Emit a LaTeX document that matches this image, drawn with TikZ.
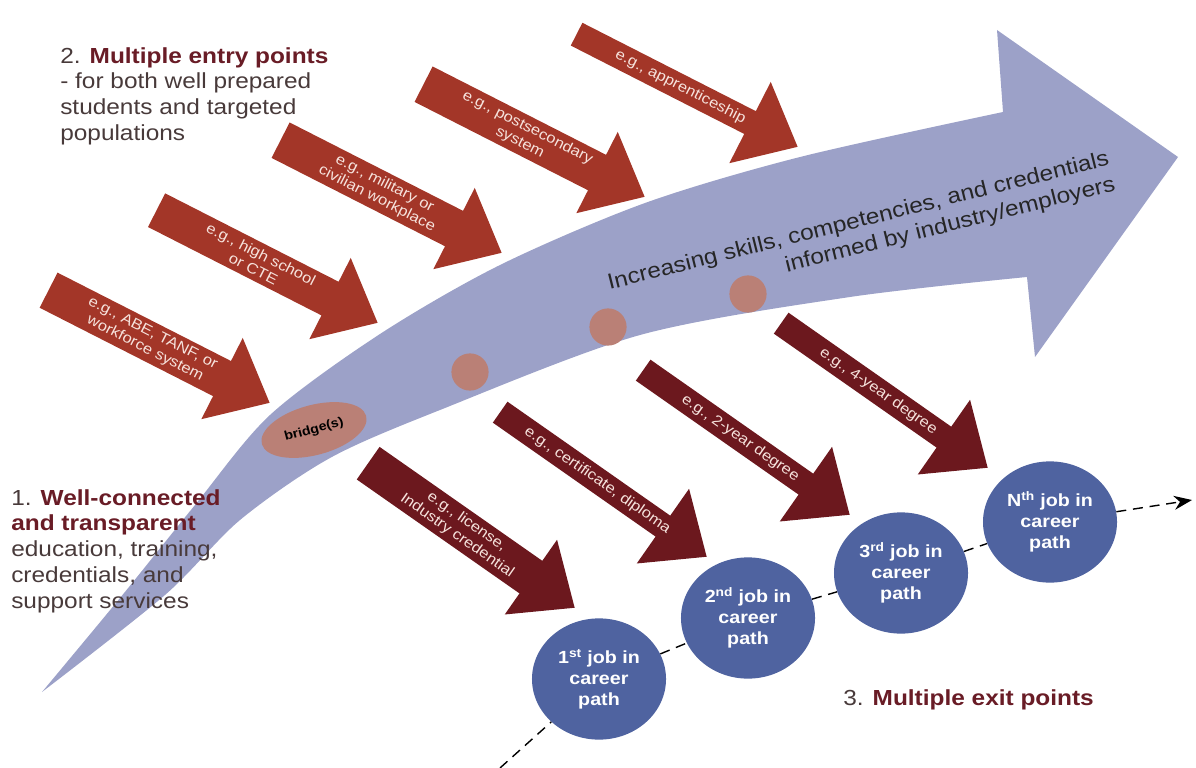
\documentclass[tikz,border=0pt]{standalone}
\usepackage{fontspec}
\setmainfont{Liberation Sans}[FakeStretch=1.12]
\usetikzlibrary{shapes.arrows,shapes.geometric,arrows.meta}
\definecolor{ribbonBlue}{RGB}{156,161,200}
\definecolor{entryRed}{RGB}{163,54,40}
\definecolor{exitRed}{RGB}{108,24,30}
\definecolor{jobBlue}{RGB}{79,99,160}
\definecolor{dotBrown}{RGB}{186,128,118}
\definecolor{labelRed}{RGB}{105,28,38}
\definecolor{labelGrey}{RGB}{72,58,58}
\definecolor{arrowText}{RGB}{246,226,220}
\begin{document}
\begin{tikzpicture}[x=0.025cm, y=-0.025cm,
    blockArrow/.style={single arrow,anchor=tip,
        minimum width=2.28cm,single arrow head extend=0.55cm,
        single arrow tip angle=81,single arrow head indent=0pt,inner sep=1pt,
        text=arrowText,align=center,font=\fontsize{10.5}{12}\selectfont},
    entryArrow/.style={blockArrow,fill=entryRed,rotate=-27,minimum height=6.2cm},
    exitArrow/.style={blockArrow,fill=exitRed,rotate=-35,minimum height=6.3cm},
    jobCircle/.style={ellipse,fill=jobBlue,minimum width=3.35cm,minimum height=3.03cm,
        inner sep=0pt,text=white,align=center,font=\bfseries\fontsize{12.5}{15}\selectfont},
    stepDot/.style={circle,fill=dotBrown,minimum size=0.93cm,inner sep=0pt},
    labelText/.style={inner sep=0pt,text=labelGrey,align=left,font=\fontsize{15.5}{18.3}\selectfont},
    careerPath/.style={line width=1pt,dash pattern=on 0.25cm off 0.17cm,-{Stealth[length=0.45cm,width=0.35cm]}},
]
\useasboundingbox (0,0) rectangle (1196,768);
% === ribbon ===
\fill[ribbonBlue] plot[smooth] coordinates {(42,692) (120,598) (195,505) (270,415) (380,334) (500,265) (645,203) (800,157) (1003,112)}
    -- (997,30) -- (1178,157) -- (1035,357) -- (1027,277)
    -- plot[smooth] coordinates {(1027,277) (850,297) (640,335) (440,410) (330,458) (240,520) (165,595) (42,692)} -- cycle;
\node[ellipse,fill=dotBrown,minimum width=2.7cm,minimum height=1.25cm,rotate=15,inner sep=0pt,
    font=\bfseries\fontsize{9}{10}\selectfont] (bridge) at (314,430) {bridge(s)};
\node[stepDot] (dot1) at (470,372) {};
\node[stepDot] (dot2) at (608,327) {};
\node[stepDot] (dot3) at (748,294) {};
\node[rotate=14,anchor=east,inner sep=0pt,align=right,text=black!85,
    font=\fontsize{15.5}{18.5}\selectfont] (skills) at (1112,172)
    {Increasing skills, competencies, and credentials\\informed by industry/employers};
% === entry points ===
\node[entryArrow] (abe) at (270,403) {e.g., ABE, TANF, or\\workforce system};
\node[entryArrow] (school) at (378,323) {e.g., high school\\or CTE};
\node[entryArrow] (military) at (502,253) {e.g., military or\\civilian workplace};
\node[entryArrow] (postsec) at (645,197) {e.g., postsecondary\\system};
\node[entryArrow] (appr) at (798,147) {e.g., apprenticeship};
% === exit points ===
\node[exitArrow] (license) at (575,608) {e.g., license,\\Industry credential};
\node[exitArrow] (certif) at (707,557) {e.g., certificate, diploma};
\node[exitArrow] (twoyear) at (850,515) {e.g., 2-year degree};
\node[exitArrow] (fouryear) at (988,468) {e.g., 4-year degree};
% === jobs ===
\node[jobCircle] (job1) at (599,679) {1\textsuperscript{st} job in\\career\\path};
\node[jobCircle] (job2) at (748,618) {2\textsuperscript{nd} job in\\career\\path};
\node[jobCircle] (job3) at (901,573) {3\textsuperscript{rd} job in\\career\\path};
\node[jobCircle] (jobN) at (1050,522) {N\textsuperscript{th} job in\\career\\path};
\coordinate (pathStart) at (500,768);
\coordinate (pathEnd) at (1192,500);
\draw[careerPath] (pathStart) -- (job1) -- (job2) -- (job3) -- (jobN) -- (pathEnd);
% === labels ===
\node[labelText,anchor=north west] (entryLabel) at (60,47)
    {2. \textbf{\textcolor{labelRed}{Multiple entry points}}\\- for both well prepared\\students and targeted\\populations};
\node[labelText,anchor=north west] (bridgeLabel) at (11,489)
    {1. \textbf{\textcolor{labelRed}{Well-connected}}\\\textbf{\textcolor{labelRed}{and transparent}}\\education, training,\\credentials, and\\support services};
\node[labelText,anchor=west] (exitLabel) at (843,700) {3. \textbf{\textcolor{labelRed}{Multiple exit points}}};
\end{tikzpicture}
\end{document}
